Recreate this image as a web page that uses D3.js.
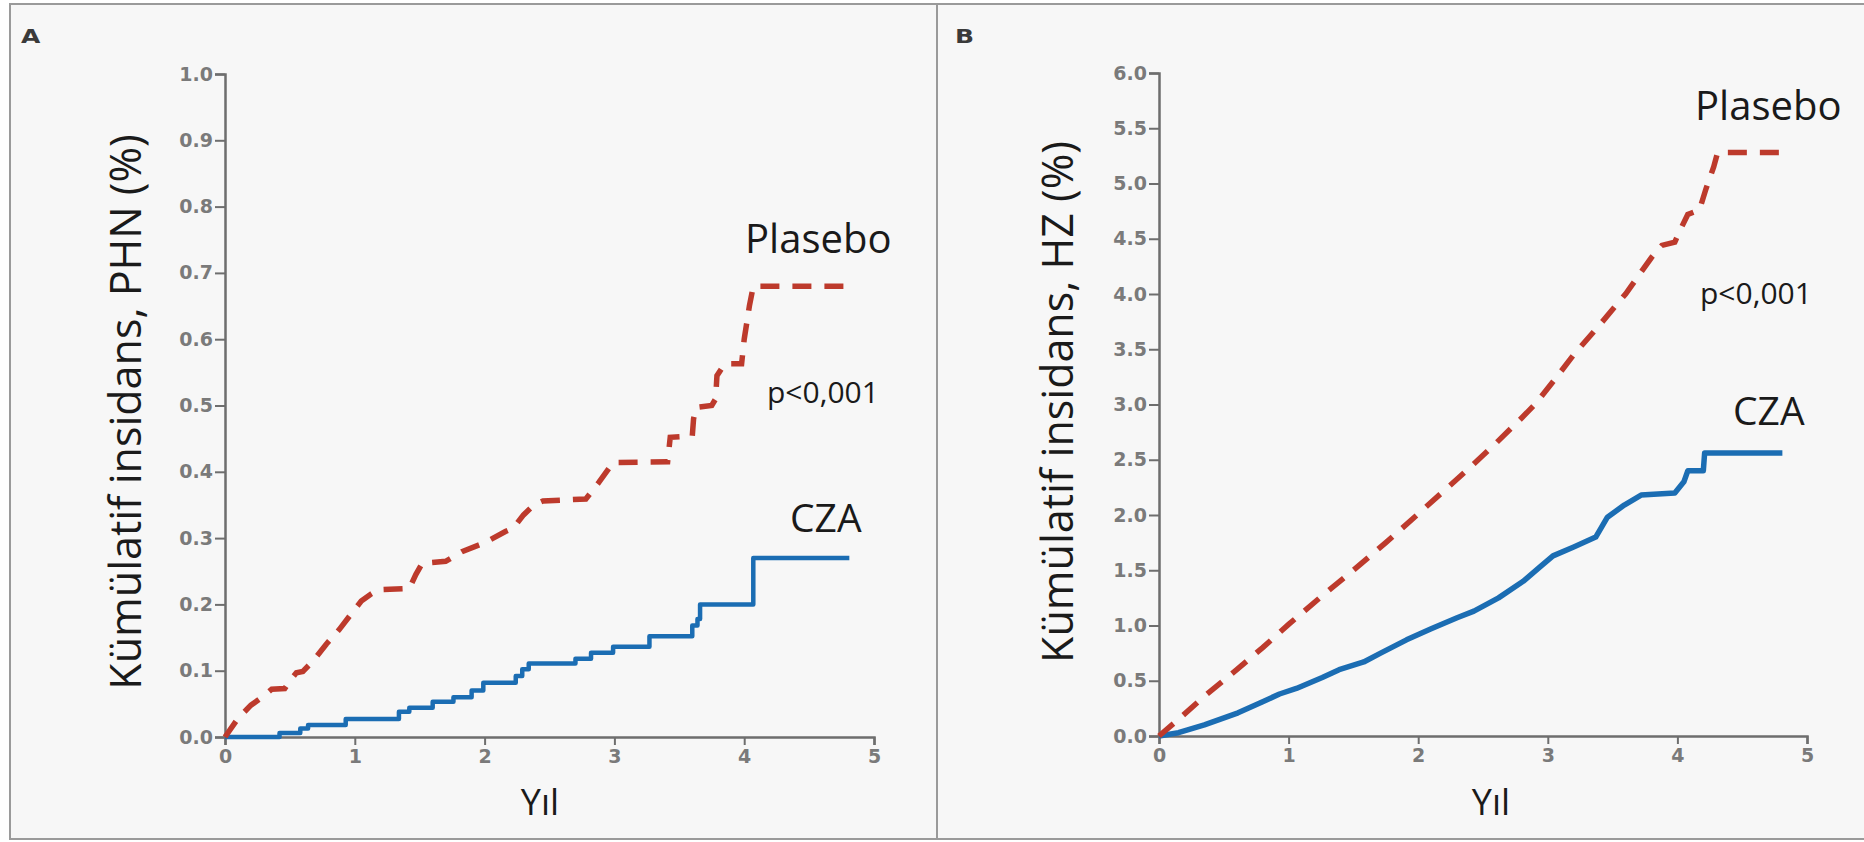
<!DOCTYPE html>
<html>
<head>
<meta charset="utf-8">
<script src="https://cdn.jsdelivr.net/npm/d3@7"></script>
<style>
  html, body { margin: 0; padding: 0; background: #ffffff; }
  svg { display: block; }
  .tick text { font-family: "DejaVu Sans", Verdana, sans-serif; font-weight: bold; font-size: 19px; fill: #7a7a7a; }
  .lbl { font-family: "Open Sans", "Noto Sans", sans-serif; fill: #1a1a1a; }
</style>
</head>
<body>
<svg id="chart" width="1864" height="842"></svg>
<script>
// Axis ticks
const yearTicks = [0, 1, 2, 3, 4, 5];
const phnTicks = [0, 0.1, 0.2, 0.3, 0.4, 0.5, 0.6, 0.7, 0.8, 0.9, 1.0];
const hzTicks = [0, 0.5, 1.0, 1.5, 2.0, 2.5, 3.0, 3.5, 4.0, 4.5, 5.0, 5.5, 6.0];

// Panel A: cumulative incidence of PHN (%), by year
const phnPlaseboYears = [0, 0.1, 0.2, 0.3, 0.36, 0.46, 0.5, 0.55, 0.6, 0.68, 0.78, 0.88, 0.97, 1.05, 1.12, 1.18, 1.42, 1.47, 1.52, 1.70, 1.83, 2.0, 2.16, 2.22, 2.3, 2.38, 2.45, 2.78, 2.88, 2.99, 3.41, 3.43, 3.6, 3.61, 3.63, 3.75, 3.78, 3.79, 3.85, 3.98, 4.0, 4.04, 4.07, 4.81];
const phnPlaseboValues = [0, 0.028, 0.048, 0.062, 0.072, 0.073, 0.085, 0.097, 0.099, 0.115, 0.14, 0.162, 0.185, 0.205, 0.215, 0.222, 0.224, 0.245, 0.262, 0.265, 0.28, 0.293, 0.31, 0.315, 0.335, 0.35, 0.356, 0.359, 0.384, 0.414, 0.415, 0.452, 0.454, 0.48, 0.497, 0.5, 0.51, 0.545, 0.563, 0.563, 0.6, 0.65, 0.68, 0.68];

// CZA arm in panel A is a step function: value holds from each year onward
const phnCzaYears = [0, 0.42, 0.58, 0.64, 0.93, 1.34, 1.42, 1.60, 1.76, 1.90, 1.99, 2.24, 2.29, 2.34, 2.70, 2.82, 2.99, 3.27, 3.60, 3.64, 3.66, 4.07, 4.81];
const phnCzaValues = [0, 0.006, 0.013, 0.018, 0.027, 0.038, 0.044, 0.053, 0.06, 0.07, 0.082, 0.092, 0.102, 0.111, 0.118, 0.127, 0.136, 0.152, 0.168, 0.178, 0.200, 0.270, 0.270];

// Panel B: cumulative incidence of HZ (%), by year
const hzPlaseboYears = [0, 0.15, 0.35, 0.6, 0.8, 1.0, 1.25, 1.5, 1.75, 2.0, 2.2, 2.4, 2.6, 2.8, 2.9, 3.05, 3.2, 3.4, 3.6, 3.8, 3.88, 3.98, 4.03, 4.08, 4.17, 4.22, 4.28, 4.31, 4.81];
const hzPlaseboValues = [0, 0.15, 0.36, 0.6, 0.8, 1.01, 1.26, 1.5, 1.75, 2.01, 2.22, 2.43, 2.65, 2.88, 3.0, 3.22, 3.45, 3.72, 4.0, 4.33, 4.44, 4.47, 4.6, 4.72, 4.76, 4.95, 5.15, 5.28, 5.28];

const hzCzaYears = [0, 0.15, 0.35, 0.61, 0.8, 0.93, 1.06, 1.26, 1.39, 1.58, 1.71, 1.91, 2.1, 2.3, 2.43, 2.62, 2.81, 2.94, 3.04, 3.2, 3.37, 3.46, 3.59, 3.72, 3.98, 4.05, 4.08, 4.2, 4.21, 4.81];
const hzCzaValues = [0, 0.03, 0.1, 0.21, 0.31, 0.38, 0.43, 0.53, 0.6, 0.67, 0.75, 0.87, 0.97, 1.07, 1.13, 1.25, 1.4, 1.53, 1.63, 1.71, 1.8, 1.98, 2.09, 2.18, 2.2, 2.3, 2.4, 2.4, 2.56, 2.56];

const RED = "#bd3a2c";
const BLUE = "#1b6db3";

const svg = d3.select("#chart");

// Panel frames
svg.append("rect").attr("x", 10).attr("y", 4).attr("width", 927).attr("height", 835)
  .attr("fill", "#f7f7f7").attr("stroke", "#9a9a9a").attr("stroke-width", 2);
svg.append("rect").attr("x", 937).attr("y", 4).attr("width", 940).attr("height", 835)
  .attr("fill", "#f7f7f7").attr("stroke", "#9a9a9a").attr("stroke-width", 2);

function zip(xs, ys) { return xs.map((t, i) => [t, ys[i]]); }

function panel(opt) {
  const g = svg.append("g");
  const x = d3.scaleLinear().domain([0, 5]).range([opt.x0, opt.x1]);
  const y = d3.scaleLinear().domain([0, opt.ymax]).range([opt.y0, opt.y1]);

  const xAxis = g.append("g").attr("transform", `translate(0,${opt.y0})`)
    .call(d3.axisBottom(x).tickValues(yearTicks).tickFormat(d3.format("d")).tickSize(8).tickPadding(5));
  const yAxis = g.append("g").attr("transform", `translate(${opt.x0},0)`)
    .call(d3.axisLeft(y).tickValues(opt.ticks).tickFormat(d3.format(".1f")).tickSize(10).tickPadding(2));
  [xAxis, yAxis].forEach(a => {
    a.select(".domain").attr("stroke", "#6e6e6e").attr("stroke-width", 2.5);
    a.selectAll(".tick line").attr("stroke", "#6e6e6e").attr("stroke-width", 2);
  });

  const czaLine = d3.line().x(d => x(d[0])).y(d => y(d[1])).curve(opt.czaCurve);
  const plaLine = d3.line().x(d => x(d[0])).y(d => y(d[1])).curve(d3.curveLinear);
  g.append("path").datum(zip(opt.czaT, opt.czaV))
    .attr("fill", "none").attr("stroke", BLUE).attr("stroke-width", opt.blueWidth)
    .attr("stroke-linejoin", "round").attr("d", czaLine);
  g.append("path").datum(zip(opt.plaT, opt.plaV))
    .attr("fill", "none").attr("stroke", RED).attr("stroke-width", 5.5)
    .attr("stroke-dasharray", "19,13").attr("stroke-linecap", "butt").attr("d", plaLine);

  // Titles and annotations
  g.append("text").attr("class", "lbl")
    .attr("transform", `translate(${opt.titleX},${opt.titleY}) rotate(-90)`)
    .attr("text-anchor", "middle").attr("dominant-baseline", "central")
    .attr("font-size", 43).text(opt.yTitle);
  g.append("text").attr("class", "lbl").attr("x", opt.yilX).attr("y", 815)
    .attr("text-anchor", "middle").attr("font-size", 36).text("Yıl");
  g.append("text").attr("class", "lbl").attr("x", opt.plaLbl[0]).attr("y", opt.plaLbl[1])
    .attr("font-size", 40).text("Plasebo");
  g.append("text").attr("class", "lbl").attr("x", opt.pLbl[0]).attr("y", opt.pLbl[1])
    .attr("font-size", 30).text("p<0,001");
  g.append("text").attr("class", "lbl").attr("x", opt.czaLbl[0]).attr("y", opt.czaLbl[1])
    .attr("font-size", 39).text("CZA");
  g.append("text").attr("x", opt.letter[0]).attr("y", 43)
    .attr("font-family", "DejaVu Sans, Verdana, sans-serif").attr("font-weight", "bold")
    .attr("font-size", 20).attr("fill", "#3a3a3a")
    .attr("transform", `translate(${opt.letter[0]},0) scale(1.25,1) translate(${-opt.letter[0]},0)`)
    .text(opt.letter[2]);
}

panel({
  x0: 225, x1: 874, y0: 737, y1: 74, ymax: 1.0, ticks: phnTicks,
  plaT: phnPlaseboYears, plaV: phnPlaseboValues, czaT: phnCzaYears, czaV: phnCzaValues,
  czaCurve: d3.curveStepAfter, blueWidth: 4.5,
  yTitle: "Kümülatif insidans, PHN (%)", titleX: 124, titleY: 412, yilX: 540,
  plaLbl: [745, 253], pLbl: [767, 403], czaLbl: [790, 532], letter: [21, 0, "A"]
});

panel({
  x0: 1159, x1: 1807, y0: 736, y1: 73, ymax: 6.0, ticks: hzTicks,
  plaT: hzPlaseboYears, plaV: hzPlaseboValues, czaT: hzCzaYears, czaV: hzCzaValues,
  czaCurve: d3.curveLinear, blueWidth: 5.5,
  yTitle: "Kümülatif insidans, HZ (%)", titleX: 1056, titleY: 402, yilX: 1491,
  plaLbl: [1695, 120], pLbl: [1700, 304], czaLbl: [1733, 425], letter: [955, 0, "B"]
});
</script>
</body>
</html>
